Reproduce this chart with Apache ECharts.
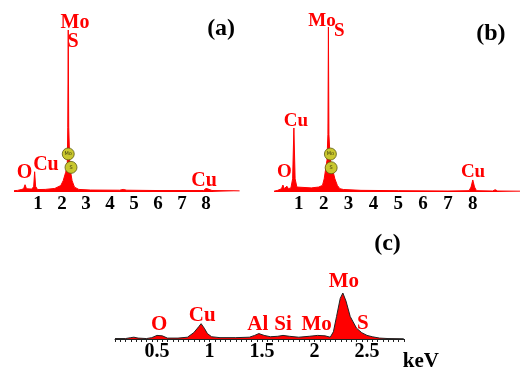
<!DOCTYPE html>
<html>
<head>
<meta charset="utf-8">
<script src="https://cdn.jsdelivr.net/npm/echarts@6/dist/echarts.min.js"></script>
<style>
html, body { margin: 0; padding: 0; background: #fff; }
#chart { width: 523px; height: 372px; }
</style>
</head>
<body>
<div id="chart"></div>
<script>
// EDS spectrum (a): energy in keV, intensity in % of the Mo/S peak
var energyA = [0, 0.15, 0.3, 0.4, 0.46, 0.52, 0.6, 0.75, 0.82, 0.86, 0.9, 0.98, 1.3, 1.7, 1.95, 2.05, 2.15, 2.22, 2.24, 2.26, 2.28, 2.33, 2.42, 2.52, 2.7, 3.2, 4.4, 4.55, 4.7, 6, 7.9, 8.0, 8.04, 8.1, 8.25, 9.4];
var countsA = [0.8, 1, 1.5, 2, 4.5, 2, 1.5, 1.8, 3.5, 12.5, 3.5, 1.5, 1.6, 2.2, 4, 7, 12, 16, 40, 100, 40, 15, 7, 3, 1.6, 1.2, 1.1, 1.6, 1.1, 0.9, 0.9, 2.2, 2.8, 1.8, 0.9, 0.7];

// EDS spectrum (b)
var energyB = [0, 0.15, 0.3, 0.36, 0.41, 0.48, 0.52, 0.58, 0.68, 0.75, 0.8, 0.85, 0.92, 1.0, 1.5, 1.8, 1.95, 2.02, 2.08, 2.13, 2.17, 2.19, 2.21, 2.26, 2.35, 2.45, 2.55, 2.65, 2.8, 3.5, 5, 7, 7.85, 7.93, 8.0, 8.07, 8.15, 8.8, 8.9, 9.0, 9.9];
var countsB = [0.5, 1, 2, 4.2, 2, 2.5, 3.5, 2, 2.5, 8, 38.8, 8, 3, 2.2, 2.5, 3, 4, 8, 14, 19, 35, 100, 35, 20, 14, 8, 4, 2, 1.5, 1, 0.8, 0.6, 0.8, 3, 7.3, 3, 0.8, 0.6, 1.4, 0.6, 0.5];

// EDS spectrum (c), low energy zoom, arbitrary counts
var energyC = [0.1, 0.2, 0.25, 0.28, 0.32, 0.4, 0.45, 0.5, 0.55, 0.6, 0.7, 0.79, 0.85, 0.9, 0.92, 0.95, 0.98, 1.02, 1.1, 1.25, 1.38, 1.43, 1.47, 1.52, 1.58, 1.65, 1.7, 1.76, 1.85, 1.95, 2.03, 2.1, 2.15, 2.18, 2.21, 2.245, 2.27, 2.3, 2.34, 2.4, 2.45, 2.5, 2.55, 2.62, 2.7, 2.85];
var countsC = [0.5, 0.5, 1.5, 2, 1, 0.5, 1.5, 4, 3.5, 1, 1, 2, 7, 14, 17, 12, 6, 2.5, 1.5, 1.5, 2, 4, 6, 4, 2.5, 3, 4, 3, 2, 3, 4, 3.5, 2, 8, 25, 45, 51, 42, 25, 12, 7, 4, 2.5, 1, 0.5, 0.3];

// axis tick labels
var ticksAB = [1, 2, 3, 4, 5, 6, 7, 8];
var ticksC = [0.5, 1, 1.5, 2, 2.5];

// peak labels: [text, keV, intensity]
var peaksA = [['Mo', 2.54, 104.3], ['S', 2.46, 92.6], ['O', 0.44, 11.7], ['Cu', 1.33, 16.7], ['Cu', 7.92, 6.8]];
var peaksB = [['Mo', 1.93, 103.6], ['S', 2.63, 97.6], ['Cu', 0.88, 43], ['O', 0.42, 12.1], ['Cu', 8.01, 11.8]];
var peaksC = [['O', 0.52, 15.5], ['Cu', 0.93, 26.5], ['Al', 1.46, 15.5], ['Si', 1.70, 15.5], ['Mo', 2.02, 15.5], ['S', 2.46, 17.5], ['Mo', 2.28, 64]];
var panelTags = [['(a)', 8.63, 100.6], ['(b)', 8.73, 95.8], ['(c)', 2.695, 105.5]];

// yellow element markers on the main peak
var markersA = [['Mo', 2.26, 23.5], ['S', 2.375, 15.2]];
var markersB = [['Mo', 2.27, 23], ['S', 2.30, 14.7]];

var RED = '#f00';
var SERIF = 'Liberation Serif';

function zip(xs, ys) {
    return xs.map(function (x, i) { return [x, ys[i]]; });
}

function spectrum(idx, xs, ys, outline) {
    return {
        type: 'line',
        xAxisIndex: idx,
        yAxisIndex: idx,
        data: zip(xs, ys),
        symbol: 'none',
        silent: true,
        lineStyle: { color: outline, width: 1 },
        areaStyle: { color: RED, opacity: 1 }
    };
}

function textLayer(idx, items, size, color) {
    return {
        type: 'scatter',
        xAxisIndex: idx,
        yAxisIndex: idx,
        clip: false,
        silent: true,
        symbolSize: 0,
        itemStyle: { color: color, opacity: 1 },
        data: items.map(function (p) { return [p[1], p[2], p[0]]; }),
        label: {
            show: true,
            position: 'inside',
            formatter: function (p) { return p.value[2]; },
            color: color,
            textBorderWidth: 0,
            fontFamily: SERIF,
            fontWeight: 'bold',
            fontSize: size
        },
        z: 5
    };
}

function markerLayer(idx, items) {
    return {
        type: 'scatter',
        xAxisIndex: idx,
        yAxisIndex: idx,
        silent: true,
        clip: false,
        symbolSize: 12,
        itemStyle: { color: '#c9c72e', borderColor: '#5c5a10', borderWidth: 0.8, opacity: 1 },
        data: items.map(function (p) { return [p[1], p[2], p[0]]; }),
        label: {
            show: true,
            position: 'inside',
            formatter: function (p) { return p.value[2]; },
            color: '#3a3a10',
            textBorderWidth: 0,
            fontSize: 5,
            fontFamily: 'DejaVu Sans'
        },
        z: 6
    };
}

function intAxis(idx) {
    return {
        type: 'value',
        gridIndex: idx,
        min: 0,
        max: 10,
        interval: 1,
        axisLine: { show: false },
        axisTick: { show: false },
        splitLine: { show: false },
        axisLabel: {
            margin: 3,
            color: '#000',
            fontFamily: SERIF,
            fontWeight: 'bold',
            fontSize: 19,
            formatter: function (v) { return ticksAB.indexOf(v) >= 0 ? String(v) : ''; }
        }
    };
}

var xA = intAxis(0);
var xB = intAxis(1);
xB.max = 9.9;

var xC = {
    type: 'value',
    gridIndex: 2,
    min: 0.1,
    max: 2.85,
    interval: 0.05,
    name: 'keV',
    nameLocation: 'end',
    nameGap: -1,
    nameTextStyle: {
        color: '#000', fontFamily: SERIF, fontWeight: 'bold', fontSize: 21,
        verticalAlign: 'top', padding: [12, 0, 0, 0]
    },
    axisLine: { show: true, lineStyle: { color: '#222', width: 1 } },
    axisTick: { show: true, length: 3, lineStyle: { color: '#222', width: 1 } },
    splitLine: { show: false },
    axisLabel: {
        margin: 3,
        color: '#000',
        fontFamily: SERIF,
        fontWeight: 'bold',
        fontSize: 20,
        formatter: function (v) {
            var h = Math.round(v * 2) / 2;
            if (Math.abs(v - h) > 1e-6) return '';
            return ticksC.indexOf(h) >= 0 ? String(h) : '';
        }
    }
};

function hiddenY(idx, max) {
    return { type: 'value', gridIndex: idx, min: 0, max: max, show: false };
}

var myChart = echarts.init(document.getElementById('chart'), null, { renderer: 'canvas' });

var option = {
    backgroundColor: '#fff',
    animation: false,
    grid: [
        { left: 14, top: 30, width: 240, height: 162 },
        { left: 274, top: 27, width: 248.5, height: 165 },
        { left: 115, top: 293, width: 288.75, height: 51 }
    ],
    xAxis: [xA, xB, xC],
    yAxis: [hiddenY(0, 100), hiddenY(1, 100), hiddenY(2, 51)],
    series: [
        spectrum(0, energyA, countsA, RED),
        spectrum(1, energyB, countsB, RED),
        spectrum(2, energyC, countsC, '#222'),
        textLayer(0, peaksA, 20, RED),
        textLayer(1, peaksB, 19, RED),
        textLayer(2, peaksC, 21, RED),
        textLayer(0, [panelTags[0]], 24, '#000'),
        textLayer(1, [panelTags[1]], 24, '#000'),
        textLayer(2, [panelTags[2]], 24, '#000'),
        markerLayer(0, markersA),
        markerLayer(1, markersB)
    ]
};

myChart.setOption(option);
</script>
</body>
</html>
